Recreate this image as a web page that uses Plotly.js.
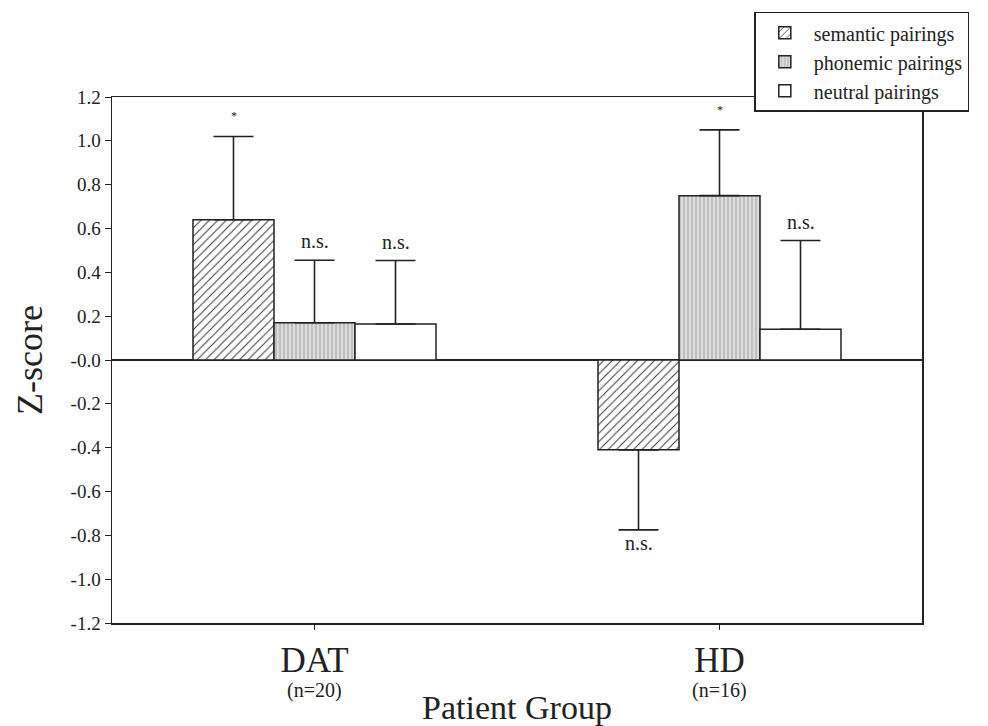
<!DOCTYPE html>
<html>
<head>
<meta charset="utf-8">
<script src="https://cdn.plot.ly/plotly-3.0.1.min.js"></script>
<style>body{margin:0;background:#fff}#chart{width:988px;height:726px}</style>
</head>
<body>
<div id="chart"></div>
<script>
const groups = ['DAT', 'HD'];
const groupN = ['(n=20)', '(n=16)'];
const seriesNames = ['semantic pairings', 'phonemic pairings', 'neutral pairings'];
const semantic = [0.64, -0.41];
const phonemic = [0.17, 0.75];
const neutral = [0.164, 0.14];
const semanticErr = [0.38, 0.365];
const phonemicErr = [0.285, 0.30];
const neutralErr = [0.29, 0.405];
const semanticSig = ['*', 'n.s.'];
const phonemicSig = ['n.s.', '*'];
const neutralSig = ['n.s.', 'n.s.'];
const yTickVals = [-1.2, -1.0, -0.8, -0.6, -0.4, -0.2, 0, 0.2, 0.4, 0.6, 0.8, 1.0, 1.2];
const yTickText = ['-1.2', '-1.0', '-0.8', '-0.6', '-0.4', '-0.2', '-0.0', '0.2', '0.4', '0.6', '0.8', '1.0', '1.2'];

const FONT = 'Liberation Serif';
const INK = '#222';

const vals = [semantic, phonemic, neutral];
const errs = [semanticErr, phonemicErr, neutralErr];
const sigs = [semanticSig, phonemicSig, neutralSig];
const patterns = [
  {shape: '/', size: 6, solidity: 0.16, fgcolor: '#333', bgcolor: '#ffffff', fillmode: 'replace'},
  {shape: '|', size: 4, solidity: 0.45, fgcolor: '#e0e0e0', bgcolor: '#c0c0c0', fillmode: 'replace'},
  {shape: '', bgcolor: '#ffffff', fgcolor: '#ffffff'}
];

const traces = vals.map((v, i) => ({
  type: 'bar',
  name: seriesNames[i],
  x: groups,
  y: v,
  marker: {
    color: '#ffffff',
    pattern: patterns[i],
    line: {color: INK, width: 1.5}
  },
  error_y: {
    type: 'data',
    symmetric: false,
    array: v.map((y, j) => y >= 0 ? errs[i][j] : 0),
    arrayminus: v.map((y, j) => y < 0 ? errs[i][j] : 0),
    color: INK,
    thickness: 1.6,
    width: 20
  }
}));

const annotations = [];
const nS = vals.length, bw = 0.2;
vals.forEach((v, i) => {
  v.forEach((y, j) => {
    const xpos = j + (i - (nS - 1) / 2) * bw;
    const pos = y >= 0;
    const ytip = pos ? y + errs[i][j] : y - errs[i][j];
    const isStar = sigs[i][j] === '*';
    annotations.push({
      x: xpos, y: ytip, xref: 'x', yref: 'y',
      text: sigs[i][j], showarrow: false,
      yanchor: pos ? 'bottom' : 'top',
      yshift: pos ? (isStar ? 11 : 6) : 0,
      font: {family: FONT, size: isStar ? 12 : 20, color: INK}
    });
  });
});
groups.forEach((g, j) => {
  annotations.push({
    x: j, y: -0.129, xref: 'x', yref: 'paper',
    text: groupN[j], showarrow: false, yanchor: 'middle',
    font: {family: FONT, size: 20, color: INK}
  });
});

const layout = {
  width: 988, height: 726,
  paper_bgcolor: '#fff', plot_bgcolor: '#fff',
  margin: {l: 112, r: 66, t: 97, b: 103, autoexpand: false},
  barmode: 'group', bargap: 0.4, bargroupgap: 0,
  showlegend: true,
  legend: {
    x: 0.793, y: 1.162, xanchor: 'left', yanchor: 'top',
    bgcolor: '#fff', bordercolor: INK, borderwidth: 1.5,
    font: {family: FONT, size: 20, color: INK},
    tracegroupgap: 0, itemwidth: 48
  },
  font: {family: FONT, color: INK},
  xaxis: {
    type: 'category',
    tickvals: groups,
    ticktext: groups,
    tickfont: {family: FONT, size: 35, color: INK},
    showline: true, linecolor: INK, linewidth: 1.5, mirror: true,
    ticks: 'outside', ticklen: 5, tickcolor: INK, tickwidth: 1,
    showgrid: false, zeroline: false,
    title: {text: 'Patient Group', font: {family: FONT, size: 34, color: INK}, standoff: 17},
    range: [-0.5, 1.5]
  },
  yaxis: {
    range: [-1.2, 1.2],
    tickvals: yTickVals, ticktext: yTickText,
    tickfont: {family: FONT, size: 19, color: INK},
    showline: true, linecolor: INK, linewidth: 1.5, mirror: true,
    ticks: 'outside', ticklen: 6, tickcolor: INK, tickwidth: 1,
    showgrid: false,
    zeroline: true, zerolinecolor: INK, zerolinewidth: 1.5,
    title: {text: 'Z-score', font: {family: FONT, size: 36, color: INK}, standoff: 17}
  },
  annotations: annotations
};

Plotly.newPlot('chart', traces, layout, {staticPlot: true, displayModeBar: false});
</script>
</body>
</html>
